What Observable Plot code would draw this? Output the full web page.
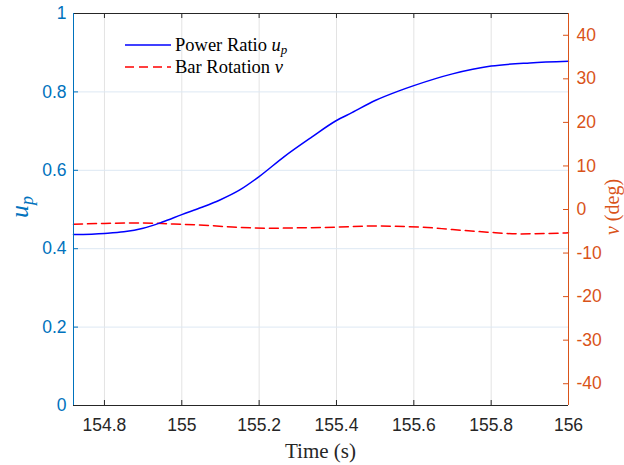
<!DOCTYPE html>
<html><head><meta charset="utf-8">
<script src="https://cdn.jsdelivr.net/npm/d3@7"></script>
<script src="https://cdn.jsdelivr.net/npm/@observablehq/plot@0.6"></script>
<style>body{margin:0;background:#fff}#chart{width:624px;height:465px}</style>
</head><body><div id="chart"></div>
<script>
// Power ratio u_p (left axis)
const timeU = [154.72,154.8,154.85,154.9,154.95,155.0,155.05,155.1,155.15,155.2,155.265,155.335,155.4,155.44,155.5,155.56,155.6,155.7,155.8,155.9,156.0];
const powerRatio = [0.436,0.439,0.443,0.452,0.468,0.487,0.505,0.525,0.550,0.584,0.635,0.684,0.727,0.747,0.778,0.802,0.816,0.846,0.866,0.874,0.878];
// Bar rotation nu in degrees (right axis)
const timeNu = [154.72,154.8,154.885,155.0,155.075,155.145,155.23,155.31,155.4,155.49,155.62,155.7,155.79,155.875,155.95,156.0];
const barRotation = [-3.4,-3.2,-3.1,-3.4,-3.7,-4.1,-4.3,-4.2,-4.05,-3.8,-4.05,-4.6,-5.2,-5.6,-5.5,-5.35];

const xTicks = [154.8,155,155.2,155.4,155.6,155.8,156];
const leftTicks = [0,0.2,0.4,0.6,0.8,1];
const rightTicks = [-40,-30,-20,-10,0,10,20,30,40];
const xDomain = [154.72,156];
const leftDomain = [0,1];
const rightDomain = [-45,45];

const blue = "#0072BD", orange = "#D95319", dark = "#262626";
const toLeft = v => leftDomain[0] + (v - rightDomain[0]) / (rightDomain[1] - rightDomain[0]) * (leftDomain[1] - leftDomain[0]);
const fromLeft = y => rightDomain[0] + (y - leftDomain[0]) / (leftDomain[1] - leftDomain[0]) * (rightDomain[1] - rightDomain[0]);

const uData = timeU.map((t,i) => ({t, u: powerRatio[i]}));
const nuData = timeNu.map((t,i) => ({t, nu: barRotation[i]}));

const W = 624, H = 465, mL = 73, mR = 56, mT = 13, mB = 60;
const fw = W - mL - mR, fh = H - mT - mB, tk = 5;
const fs = 17.5;

const svg = Plot.plot({
  width: W, height: H,
  marginLeft: mL, marginRight: mR, marginTop: mT, marginBottom: mB,
  style: {fontFamily: "'Liberation Sans', Arial, Helvetica, sans-serif", fontSize: fs + "px", background: "#fff"},
  x: {domain: xDomain, axis: null},
  y: {domain: leftDomain, axis: null},
  marks: [
    Plot.gridX(xTicks, {stroke: "#e3e3e3", strokeOpacity: 1}),
    Plot.gridY(leftTicks, {stroke: "#dde8f3", strokeOpacity: 1}),
    // inward tick marks
    Plot.ruleX(xTicks, {stroke: dark, insetTop: fh - tk}),
    Plot.ruleX(xTicks, {stroke: dark, insetBottom: fh - tk}),
    Plot.ruleY(leftTicks, {stroke: blue, insetRight: fw - tk}),
    Plot.ruleY(rightTicks.map(toLeft), {stroke: orange, insetLeft: fw - tk}),
    // tick labels
    Plot.axisX(xTicks, {tickSize: 0, tickPadding: 13, tickFormat: d => String(d), fontSize: fs, color: dark, label: null}),
    Plot.axisY(leftTicks, {tickSize: 0, tickPadding: 7, tickFormat: d => String(d), fontSize: fs, color: blue, label: null}),
    Plot.axisY(rightTicks.map(toLeft), {anchor: "right", tickSize: 0, tickPadding: 8, tickFormat: d => String(Math.round(fromLeft(d))), fontSize: fs, color: orange, label: null}),
    // data
    Plot.line(nuData, {x: "t", y: d => toLeft(d.nu), stroke: "#ff0000", strokeWidth: 1.5, strokeDasharray: "9,5", curve: "monotone-x"}),
    Plot.line(uData, {x: "t", y: "u", stroke: "#0000ff", strokeWidth: 1.5, curve: "monotone-x"}),
    // box
    Plot.ruleY([leftDomain[1]], {stroke: dark}),
    Plot.ruleY([leftDomain[0]], {stroke: dark}),
    Plot.ruleX([xDomain[0]], {stroke: blue}),
    Plot.ruleX([xDomain[1]], {stroke: orange})
  ]
});

const s = d3.select(svg);
const serif = "'Liberation Serif', 'Times New Roman', serif";
// x label
s.append("text").attr("x", mL + fw/2).attr("y", 458).attr("text-anchor", "middle")
  .attr("font-family", serif).attr("font-size", 21).attr("fill", dark).text("Time (s)");
// left label u_p
const ly = s.append("text").attr("transform", `translate(28,${mT + fh/2 - 2}) rotate(-90)`).attr("text-anchor", "middle")
  .attr("font-family", serif).attr("font-size", 26).attr("fill", blue);
ly.append("tspan").attr("font-style", "italic").text("u");
ly.append("tspan").attr("font-style", "italic").attr("font-size", 18).attr("dy", 5).text("p");
// right label nu (deg)
const ry = s.append("text").attr("transform", `translate(619,${mT + fh/2 - 2}) rotate(-90)`).attr("text-anchor", "middle")
  .attr("font-family", serif).attr("font-size", 20).attr("fill", orange);
ry.append("tspan").attr("font-style", "italic").text("ν");
ry.append("tspan").text(" (deg)");
// legend
const lg = s.append("g").attr("font-family", serif).attr("font-size", 18.5).attr("fill", "#000").attr("text-anchor", "start");
lg.append("line").attr("x1", 125).attr("x2", 171).attr("y1", 45).attr("y2", 45).attr("stroke", "#0000ff").attr("stroke-width", 1.5);
lg.append("line").attr("x1", 125).attr("x2", 171).attr("y1", 67).attr("y2", 67).attr("stroke", "#ff0000").attr("stroke-width", 1.5).attr("stroke-dasharray", "9,5");
const t1 = lg.append("text").attr("x", 175).attr("y", 51);
t1.append("tspan").text("Power Ratio ");
t1.append("tspan").attr("font-style", "italic").text("u");
t1.append("tspan").attr("font-style", "italic").attr("font-size", 13).attr("dy", 3).text("p");
const t2 = lg.append("text").attr("x", 175).attr("y", 73);
t2.append("tspan").text("Bar Rotation ");
t2.append("tspan").attr("font-style", "italic").text("ν");

document.getElementById("chart").appendChild(svg);
</script></body></html>
